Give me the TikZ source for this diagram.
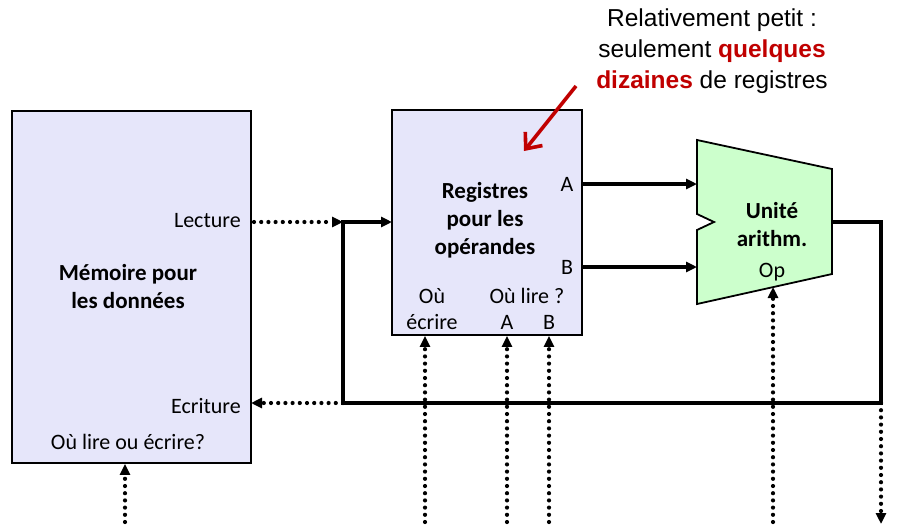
\documentclass[tikz,border=0pt]{standalone}
\usepackage{fontspec}
\setmainfont{Carlito}
\newfontfamily\helv{Liberation Sans}
\usetikzlibrary{arrows.meta,calc}
\definecolor{boxfill}{RGB}{230,230,250}
\definecolor{alufill}{RGB}{204,255,204}
\definecolor{accent}{RGB}{192,0,0}
\begin{document}
\begin{tikzpicture}[x=1pt,y=-1pt,
  unit/.style={draw=black, line width=1.8pt, fill=boxfill, inner sep=0pt},
  tip/.style={-{Triangle[length=11pt,width=10pt]}},
  bus/.style={line width=3.4pt, line join=miter},
  ctrl/.style={line width=4.2pt, dash pattern=on 0pt off 7.2pt, line cap=round},
  lbl/.style={font=\fontsize{22}{26}\selectfont, inner sep=0pt},
  title/.style={font=\fontsize{23}{28}\selectfont\bfseries, inner sep=0pt, align=center},
  note/.style={font=\helv\fontsize{24.5}{31}\selectfont, inner sep=0pt, align=center}]
\useasboundingbox (0,0) rectangle (910,525);

% data memory
\node[unit, minimum width=239pt, minimum height=352pt] (mem) at (131.5,287) {};
\node[title] (memname) at (128,287) {Mémoire pour\\les données};
\node[lbl, anchor=east] (lect) at (241,221) {Lecture};
\node[lbl, anchor=east] (ecr) at (241,406) {Ecriture};
\node[lbl] (memaddr) at (128,442) {Où lire ou écrire?};

% register file
\node[unit, minimum width=190pt, minimum height=225pt] (reg) at (487,222.5) {};
\node[title] (regname) at (485,220) {Registres\\pour les\\opérandes};
\node[lbl] (ra) at (567,184) {A};
\node[lbl] (rb) at (567,267) {B};
\node[lbl, align=center, font=\fontsize{22}{26}\selectfont] (rw) at (432,309) {Où\\écrire};
\node[lbl] (rread) at (527,296) {Où lire ?};
\node[lbl] (rsa) at (507,322) {A};
\node[lbl] (rsb) at (549,322) {B};

% arithmetic unit
\coordinate (alu-tl) at (697,140);
\coordinate (alu-tr) at (832,169);
\coordinate (alu-br) at (832,274);
\coordinate (alu-bl) at (697,304);
\coordinate (alu-n1) at (697,214);
\coordinate (alu-nt) at (714,222);
\coordinate (alu-n2) at (697,230);
\draw[line width=1.8pt, fill=alufill, line join=miter]
  (alu-tl) -- (alu-tr) -- (alu-br) -- (alu-bl) -- (alu-n2) -- (alu-nt) -- (alu-n1) -- cycle;
\node[title] (aluname) at (772,225) {Unité\\arithm.};
\node[lbl] (op) at (772,272) {Op};

% data paths
\coordinate (aluA) at (697,184);
\coordinate (aluB) at (697,267);
\coordinate (aluout) at (832,222);
\coordinate (outc) at (881,222);
\coordinate (loopR) at (881,403);
\coordinate (loopL) at (343,403);
\coordinate (join) at (343,222);
\coordinate (regin) at (392,222);
\coordinate (memrd) at (254,222);
\coordinate (memwr) at (251,403);
\draw[bus, tip] (reg.east |- aluA) -- (aluA);
\draw[bus, tip] (reg.east |- aluB) -- (aluB);
\draw[bus, tip] (aluout) -- (outc) -- (loopR) -- (loopL) -- (join) -- (regin);

% control signals
\draw[ctrl, tip] (memrd) -- (join);
\draw[ctrl, tip] (loopL) -- (memwr);
\coordinate (memsel) at (125,522);
\coordinate (wsel) at (425,522);
\coordinate (asel) at (507,522);
\coordinate (bsel) at (549,522);
\coordinate (opsel) at (773,522);
\coordinate (outsel) at (881,524);
\draw[ctrl, tip] (memsel) -- (mem.south -| memsel);
\draw[ctrl, tip] (wsel) -- (reg.south -| wsel);
\draw[ctrl, tip] (asel) -- (reg.south -| asel);
\draw[ctrl, tip] (bsel) -- (reg.south -| bsel);
\draw[ctrl, tip] (opsel) -- (773,287);
\draw[ctrl, tip] (loopR) -- (outsel);

% annotation
\node[note] (remark) at (712,51) {Relativement petit :\\seulement {\bfseries\color{accent}quelques}\\{\bfseries\color{accent}dizaines} de registres};
\coordinate (rtail) at (576,86);
\coordinate (rhead) at (524,151);
\draw[accent, line width=3.6pt, -{Straight Barb[length=13pt,width=22pt,line width=3.6pt]}] (rtail) -- (rhead);
\end{tikzpicture}
\end{document}
